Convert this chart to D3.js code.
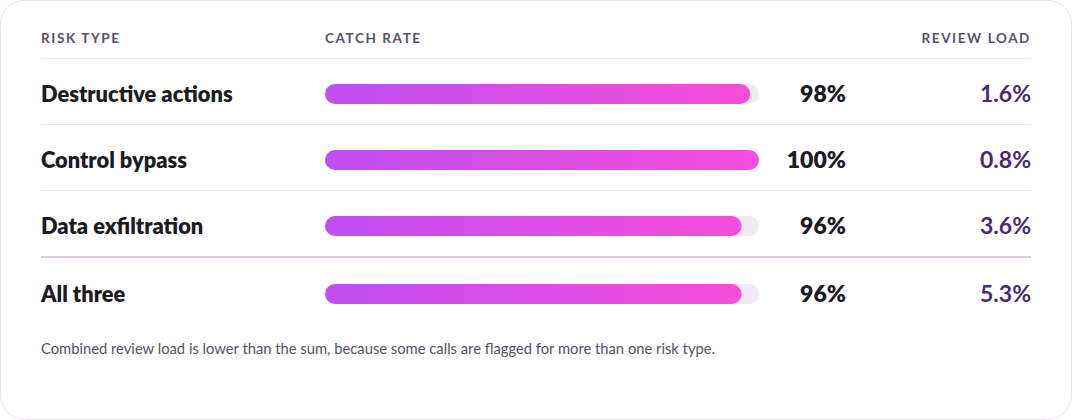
<!DOCTYPE html>
<html><head><meta charset="utf-8">
<script src="https://cdn.jsdelivr.net/npm/d3@7"></script>
<style>
html,body{margin:0;padding:0;background:#fff;}
svg{display:block;font-family:Lato,"Noto Sans",sans-serif;}
</style></head>
<body>
<svg id="c" width="1072" height="420"></svg>
<script>
const categories = ["Destructive actions","Control bypass","Data exfiltration","All three"];
const catchRate = [98,100,96,96];
const reviewLoad = [1.6,0.8,3.6,5.3];
const headers = ["RISK TYPE","CATCH RATE","REVIEW LOAD"];
const footnote = "Combined review load is lower than the sum, because some calls are flagged for more than one risk type.";

const svg = d3.select("#c");
const defs = svg.append("defs");
const grad = defs.append("linearGradient").attr("id","g").attr("x1","0").attr("x2","1").attr("y1","0").attr("y2","0");
grad.append("stop").attr("offset","0").attr("stop-color","#c04ef1");
grad.append("stop").attr("offset","1").attr("stop-color","#f64ddb");

svg.append("rect").attr("x",0.5).attr("y",0.5).attr("width",1071).attr("height",419)
  .attr("rx",24).attr("fill","#fff").attr("stroke","#e7def1");

const left = 41, right = 1031;
const x = d3.scaleLinear().domain([0,100]).range([325,759]);
const rowY = d3.scalePoint().domain(categories.slice(0,3)).range([94,226]);
const yPos = (c,i) => i < 3 ? rowY(c) : 294;

// headers
const hY = 43;
[[headers[0],left,"start"],[headers[1],325,"start"],[headers[2],right,"end"]].forEach(([t,xx,a])=>{
  svg.append("text").attr("x",xx).attr("y",hY).attr("text-anchor",a)
    .style("font-size","13.5px").style("font-weight",700).style("letter-spacing","1.6px")
    .attr("fill","#57516a").text(t);
});
svg.append("line").attr("x1",left).attr("x2",right).attr("y1",58.5).attr("y2",58.5).attr("stroke","#ebe4f3");

// separators
[124.5,190.5].forEach(y=>svg.append("line").attr("x1",left).attr("x2",right).attr("y1",y).attr("y2",y).attr("stroke","#ede5f4"));
svg.append("line").attr("x1",left).attr("x2",right).attr("y1",257).attr("y2",257).attr("stroke","#dccbe6").attr("stroke-width",2);

const rows = svg.selectAll("g.row").data(categories).join("g").attr("class","row")
  .attr("transform",(d,i)=>`translate(0,${yPos(d,i)})`);

rows.append("text").attr("x",left).attr("y",7.5)
  .style("font-size","21.8px").style("font-weight",800).attr("fill","#1c1a23").text(d=>d);

rows.append("rect").attr("x",x(0)).attr("y",-10).attr("height",20).attr("width",x(100)-x(0))
  .attr("rx",10).attr("fill","#f2e9f6");
rows.append("rect").attr("x",x(0)).attr("y",-10).attr("height",20)
  .attr("width",(d,i)=>x(catchRate[i])-x(0)).attr("rx",10).attr("fill","url(#g)");

rows.append("text").attr("x",846).attr("y",8).attr("text-anchor","end")
  .style("font-size","23px").style("font-weight",800).attr("fill","#1c1a23")
  .text((d,i)=>catchRate[i]+"%");
rows.append("text").attr("x",right).attr("y",8).attr("text-anchor","end")
  .style("font-size","23px").style("font-weight",700).attr("fill","#4a2a72")
  .text((d,i)=>reviewLoad[i].toFixed(1)+"%");

svg.append("text").attr("x",left).attr("y",354).style("font-size","14.75px").attr("fill","#555066").text(footnote);
</script>
</body></html>
